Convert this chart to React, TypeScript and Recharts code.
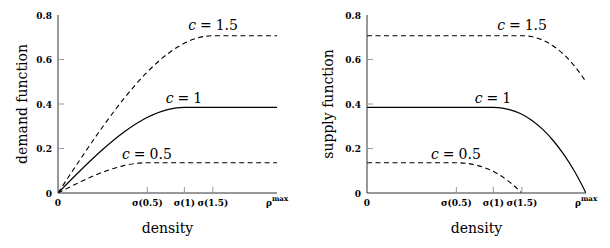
import React from 'react';
import { LineChart, Line, XAxis, YAxis, ReferenceDot } from 'recharts';

// ---- data ----
const densityTicks = [0, 0.408, 0.577, 0.707, 1];
const densityTickLabels = ['0', 'σ(0.5)', 'σ(1)', 'σ(1.5)', 'ρ'];
const valueTicks = [0, 0.2, 0.4, 0.6, 0.8];
const valueTickLabels = ['0', '0.2', '0.4', '0.6', '0.8'];

const demandC05 = [
  { x: 0, y: 0 }, { x: 0.05, y: 0.025 }, { x: 0.1, y: 0.049 }, { x: 0.15, y: 0.072 },
  { x: 0.2, y: 0.092 }, { x: 0.25, y: 0.109 }, { x: 0.3, y: 0.123 }, { x: 0.35, y: 0.132 },
  { x: 0.408, y: 0.136 }, { x: 1, y: 0.136 },
];
const demandC1 = [
  { x: 0, y: 0 }, { x: 0.1, y: 0.099 }, { x: 0.2, y: 0.192 }, { x: 0.3, y: 0.273 },
  { x: 0.4, y: 0.336 }, { x: 0.5, y: 0.375 }, { x: 0.577, y: 0.385 }, { x: 1, y: 0.385 },
];
const demandC15 = [
  { x: 0, y: 0 }, { x: 0.1, y: 0.149 }, { x: 0.2, y: 0.292 }, { x: 0.3, y: 0.423 },
  { x: 0.4, y: 0.536 }, { x: 0.5, y: 0.625 }, { x: 0.6, y: 0.684 }, { x: 0.707, y: 0.707 },
  { x: 1, y: 0.707 },
];
const supplyC05 = [
  { x: 0, y: 0.136 }, { x: 0.408, y: 0.136 }, { x: 0.45, y: 0.134 }, { x: 0.5, y: 0.125 },
  { x: 0.55, y: 0.109 }, { x: 0.6, y: 0.084 }, { x: 0.65, y: 0.05 }, { x: 0.707, y: 0 },
];
const supplyC1 = [
  { x: 0, y: 0.385 }, { x: 0.577, y: 0.385 }, { x: 0.6, y: 0.384 }, { x: 0.65, y: 0.375 },
  { x: 0.7, y: 0.357 }, { x: 0.75, y: 0.328 }, { x: 0.8, y: 0.288 }, { x: 0.85, y: 0.236 },
  { x: 0.9, y: 0.171 }, { x: 0.95, y: 0.093 }, { x: 1, y: 0 },
];
const supplyC15 = [
  { x: 0, y: 0.707 }, { x: 0.707, y: 0.707 }, { x: 0.75, y: 0.703 }, { x: 0.8, y: 0.688 },
  { x: 0.85, y: 0.661 }, { x: 0.9, y: 0.621 }, { x: 0.95, y: 0.568 }, { x: 1, y: 0.5 },
];

const curveLabels = ['0.5', '1', '1.5'];
const curveLabelX = [0.406, 0.575, 0.708];
const curveLabelY = [0.175, 0.427, 0.755];

// ---- styling ----
const FONT = '"DejaVu Serif", serif';
const FRAME = '#333';
const TICK_COLOR = '#999';
const TICK_LEN = 6;
const TICK_FONT = 9;
const DASH = '5 3.5';

function nearestIndex(list: number[], v: number) {
  let best = 0;
  for (let i = 1; i < list.length; i++) {
    if (Math.abs(list[i] - v) < Math.abs(list[best] - v)) best = i;
  }
  return best;
}

function BottomTick(props: any) {
  const { x, y, payload } = props;
  const i = nearestIndex(densityTicks, payload.value);
  const last = densityTicks.length - 1;
  const inner = i > 0 && i < last;
  return (
    <g>
      {inner && <line x1={x} x2={x} y1={y} y2={y - TICK_LEN} stroke={TICK_COLOR} strokeWidth={1} />}
      <text x={x} y={y + 13} textAnchor="middle" fontFamily={FONT} fontSize={TICK_FONT} fontWeight="bold" fill="#000">
        {densityTickLabels[i]}
        {i === last && (
          <tspan fontSize={7} dy={-5}>max</tspan>
        )}
      </text>
    </g>
  );
}

function TopTick(props: any) {
  const { x, y, payload } = props;
  const i = nearestIndex(densityTicks, payload.value);
  const inner = i > 0 && i < densityTicks.length - 1;
  if (!inner) return <g />;
  return <line x1={x} x2={x} y1={y} y2={y + TICK_LEN} stroke={TICK_COLOR} strokeWidth={1} />;
}

function LeftTick(props: any) {
  const { x, y, payload } = props;
  const i = nearestIndex(valueTicks, payload.value);
  const inner = i > 0 && i < valueTicks.length - 1;
  return (
    <g>
      {inner && <line x1={x} x2={x + TICK_LEN} y1={y} y2={y} stroke={TICK_COLOR} strokeWidth={1} />}
      <text x={x - 6} y={y + 3.5} textAnchor="end" fontFamily={FONT} fontSize={TICK_FONT} fontWeight="bold" fill="#000">
        {valueTickLabels[i]}
      </text>
    </g>
  );
}

function RightTick(props: any) {
  const { x, y, payload } = props;
  const i = nearestIndex(valueTicks, payload.value);
  const inner = i > 0 && i < valueTicks.length - 1;
  if (!inner) return <g />;
  return <line x1={x} x2={x - TICK_LEN} y1={y} y2={y} stroke={TICK_COLOR} strokeWidth={1} />;
}

function XTitle(props: any) {
  const vb = props.viewBox || { x: 0, y: 0, width: 0 };
  return (
    <text x={vb.x + vb.width / 2} y={vb.y + 40} textAnchor="middle" fontFamily={FONT} fontSize={14} fill="#000">
      density
    </text>
  );
}

function YTitle(props: any) {
  const vb = props.viewBox || { x: 0, y: 0, height: 0 };
  const cx = props.tx;
  const cy = vb.y + vb.height / 2;
  return (
    <text x={cx} y={cy} transform={`rotate(-90, ${cx}, ${cy})`} textAnchor="middle" dominantBaseline="central" fontFamily={FONT} fontSize={14} fill="#000">
      {props.text}
    </text>
  );
}

function CurveLabel(props: any) {
  const vb = props.viewBox || { x: 0, y: 0 };
  return (
    <text x={vb.x} y={vb.y + 5} textAnchor="middle" fontFamily={FONT} fontSize={14} fill="#000">
      <tspan fontStyle="italic">c</tspan>
      <tspan dx={4}>=</tspan>
      <tspan dx={4}>{props.text}</tspan>
    </text>
  );
}

type PanelProps = {
  width: number;
  yWidth: number;
  right: number;
  title: string;
  titleX: number;
  s05: { x: number; y: number }[];
  s1: { x: number; y: number }[];
  s15: { x: number; y: number }[];
};

function Panel({ width, yWidth, right, title, titleX, s05, s1, s15 }: PanelProps) {
  return (
    <LineChart width={width} height={248} margin={{ top: 15, right, bottom: 25, left: 0 }}>
      <XAxis
        xAxisId="b" type="number" dataKey="x" domain={[0, 1]} ticks={densityTicks} interval={0}
        allowDataOverflow tick={<BottomTick />} tickLine={false} tickSize={0} tickMargin={0} height={30}
        axisLine={{ stroke: FRAME, strokeWidth: 1 }} label={<XTitle />}
      />
      <XAxis
        xAxisId="t" orientation="top" type="number" dataKey="x" domain={[0, 1]} ticks={densityTicks} interval={0}
        allowDataOverflow tick={<TopTick />} tickLine={false} tickSize={0} tickMargin={0} height={0}
        axisLine={{ stroke: FRAME, strokeWidth: 1 }}
      />
      <YAxis
        yAxisId="l" type="number" domain={[0, 0.8]} ticks={valueTicks} interval={0} allowDataOverflow
        tick={<LeftTick />} tickLine={false} tickSize={0} tickMargin={0} width={yWidth}
        axisLine={{ stroke: FRAME, strokeWidth: 1 }} label={<YTitle text={title} tx={titleX} />}
      />
      <YAxis
        yAxisId="r" orientation="right" type="number" domain={[0, 0.8]} ticks={valueTicks} interval={0}
        allowDataOverflow tick={<RightTick />} tickLine={false} tickSize={0} tickMargin={0} width={0}
        axisLine={{ stroke: FRAME, strokeWidth: 1 }}
      />
      <Line xAxisId="b" yAxisId="l" data={s05} dataKey="y" type="monotone" stroke="#000" strokeWidth={1.1}
        strokeDasharray={DASH} dot={false} isAnimationActive={false} />
      <Line xAxisId="b" yAxisId="l" data={s1} dataKey="y" type="monotone" stroke="#000" strokeWidth={1.2}
        dot={false} isAnimationActive={false} />
      <Line xAxisId="b" yAxisId="l" data={s15} dataKey="y" type="monotone" stroke="#000" strokeWidth={1.1}
        strokeDasharray={DASH} dot={false} isAnimationActive={false} />
      {curveLabels.map((t, i) => (
        <ReferenceDot key={t} xAxisId="b" yAxisId="l" x={curveLabelX[i]} y={curveLabelY[i]} r={0}
          ifOverflow="visible" fill="none" stroke="none" label={<CurveLabel text={t} />} />
      ))}
    </LineChart>
  );
}

export default function App() {
  return (
    <div style={{ position: 'relative', width: 610, height: 248, margin: '-8px 0 0 -8px', background: '#fff' }}>
      <div style={{ position: 'absolute', left: 0, top: 0 }}>
        <Panel width={300} yWidth={58} right={23} title="demand function" titleX={22}
          s05={demandC05} s1={demandC1} s15={demandC15} />
      </div>
      <div style={{ position: 'absolute', left: 300, top: 0 }}>
        <Panel width={310} yWidth={67} right={24} title="supply function" titleX={28}
          s05={supplyC05} s1={supplyC1} s15={supplyC15} />
      </div>
    </div>
  );
}
